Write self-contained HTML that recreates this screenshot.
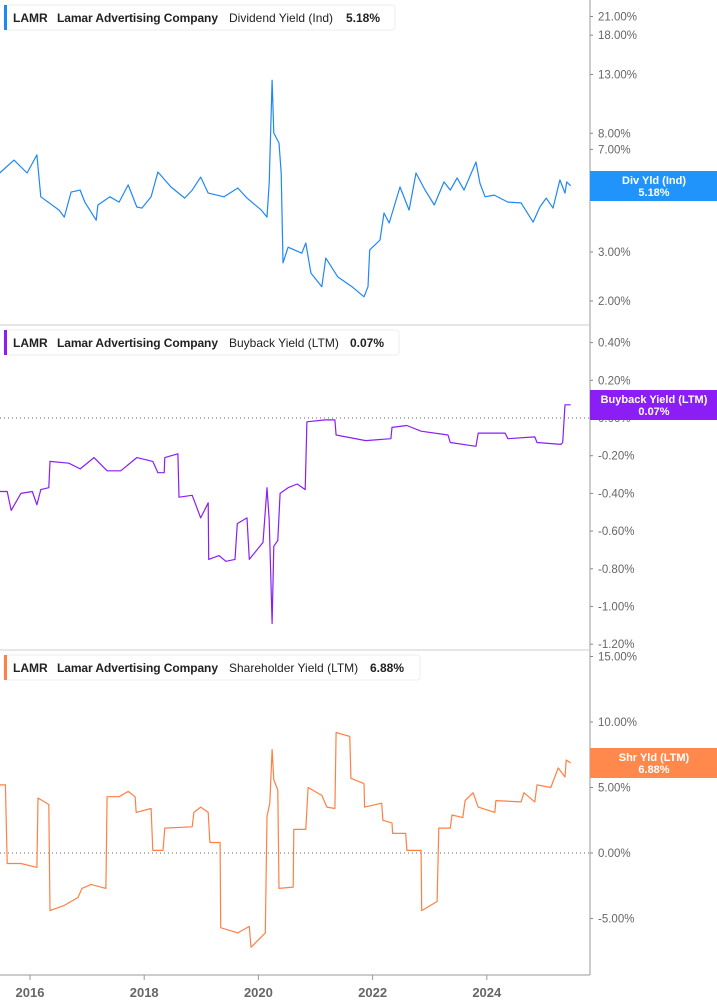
<!DOCTYPE html>
<html><head><meta charset="utf-8"><style>
body{margin:0;background:#fff;}
svg{display:block;font-family:"Liberation Sans",sans-serif;}
</style></head><body>
<svg id="chart" width="717" height="1005" viewBox="0 0 717 1005" xmlns="http://www.w3.org/2000/svg">
<g id="grid">
<line x1="590" y1="0" x2="590" y2="975" stroke="#999" stroke-width="1"/>
<line x1="0" y1="325" x2="590" y2="325" stroke="#ccc"/>
<line x1="0" y1="650" x2="590" y2="650" stroke="#ccc"/>
<line x1="0" y1="975" x2="590" y2="975" stroke="#999"/>
<line x1="0" y1="418" x2="590" y2="418" stroke="#666" stroke-dasharray="1,3"/>
<line x1="0" y1="853" x2="590" y2="853" stroke="#666" stroke-dasharray="1,3"/>
</g>
<g id="ticks"></g>
<g id="series"></g>
<g id="legends"></g>
<g id="badges"></g>
</svg>
<script>
// Dividend yield (Ind), %
const divDates=[2015.47,2015.72,2015.95,2016.12,2016.19,2016.51,2016.60,2016.72,2016.88,2016.96,2017.16,2017.19,2017.40,2017.56,2017.72,2017.87,2017.96,2018.12,2018.24,2018.47,2018.71,2018.84,2018.99,2019.12,2019.40,2019.64,2019.80,2020.05,2020.15,2020.19,2020.24,2020.27,2020.36,2020.40,2020.43,2020.52,2020.76,2020.83,2020.92,2021.11,2021.18,2021.39,2021.64,2021.85,2021.92,2021.95,2022.13,2022.20,2022.29,2022.48,2022.64,2022.76,2022.92,2023.08,2023.25,2023.36,2023.48,2023.60,2023.81,2023.88,2023.97,2024.13,2024.37,2024.60,2024.81,2024.93,2025.04,2025.16,2025.28,2025.37,2025.40,2025.47];
const divValues=[5.76,6.41,5.76,6.69,4.73,4.24,4.00,4.92,5.00,4.53,3.90,4.42,4.73,4.53,5.22,4.35,4.31,4.73,5.81,5.13,4.68,5.00,5.57,4.88,4.73,5.09,4.68,4.24,4.00,5.30,12.4,8.02,7.38,5.76,2.74,3.12,2.97,3.23,2.52,2.25,2.85,2.44,2.25,2.07,2.25,3.05,3.31,4.14,3.81,5.13,4.24,5.76,5.00,4.42,5.35,5.00,5.53,5.00,6.31,5.30,4.73,4.80,4.53,4.50,3.84,4.35,4.68,4.31,5.44,4.88,5.35,5.18];
// Buyback yield (LTM), %
const bbDates=[2015.47,2015.60,2015.67,2015.84,2016.04,2016.12,2016.19,2016.33,2016.35,2016.68,2016.88,2017.12,2017.35,2017.59,2017.87,2018.15,2018.24,2018.35,2018.36,2018.59,2018.61,2018.84,2018.99,2019.12,2019.13,2019.31,2019.43,2019.59,2019.63,2019.80,2019.84,2020.08,2020.15,2020.19,2020.24,2020.27,2020.34,2020.38,2020.52,2020.68,2020.82,2020.85,2021.17,2021.34,2021.36,2021.88,2022.32,2022.34,2022.60,2022.85,2023.32,2023.36,2023.81,2023.85,2024.32,2024.37,2024.84,2024.88,2025.30,2025.33,2025.37,2025.47];
const bbValues=[-0.39,-0.39,-0.49,-0.40,-0.39,-0.46,-0.38,-0.37,-0.23,-0.24,-0.27,-0.21,-0.28,-0.28,-0.21,-0.23,-0.29,-0.29,-0.21,-0.19,-0.42,-0.41,-0.53,-0.45,-0.75,-0.73,-0.76,-0.75,-0.56,-0.53,-0.75,-0.66,-0.37,-0.54,-1.09,-0.68,-0.65,-0.40,-0.37,-0.35,-0.38,-0.02,-0.01,-0.01,-0.09,-0.12,-0.11,-0.05,-0.04,-0.07,-0.09,-0.13,-0.15,-0.08,-0.08,-0.11,-0.10,-0.13,-0.14,-0.13,0.07,0.07];
// Shareholder yield (LTM), %
const shDates=[2015.47,2015.57,2015.60,2015.84,2016.12,2016.14,2016.33,2016.35,2016.60,2016.84,2016.91,2017.07,2017.33,2017.35,2017.56,2017.72,2017.84,2017.86,2018.12,2018.15,2018.33,2018.36,2018.84,2018.87,2018.99,2019.12,2019.15,2019.33,2019.34,2019.64,2019.84,2019.87,2020.12,2020.15,2020.20,2020.24,2020.27,2020.34,2020.36,2020.61,2020.62,2020.83,2020.87,2021.11,2021.20,2021.34,2021.36,2021.60,2021.62,2021.85,2021.86,2022.16,2022.18,2022.34,2022.35,2022.58,2022.60,2022.85,2022.86,2023.13,2023.16,2023.36,2023.39,2023.58,2023.62,2023.76,2023.85,2024.14,2024.16,2024.60,2024.65,2024.84,2024.88,2025.12,2025.25,2025.37,2025.39,2025.47];
const shValues=[5.2,5.2,-0.8,-0.8,-1.1,4.2,3.7,-4.4,-4.0,-3.4,-2.7,-2.4,-2.7,4.3,4.3,4.7,4.3,3.1,3.4,0.2,0.2,1.9,2.0,3.1,3.5,3.1,0.8,0.8,-5.7,-6.1,-5.6,-7.2,-6.1,2.8,3.8,7.9,5.6,4.8,-2.7,-2.6,1.8,1.8,5.0,4.4,3.5,3.4,9.2,8.9,5.7,5.3,3.5,3.8,2.5,2.3,1.5,1.5,0.2,0.2,-4.4,-3.7,1.9,1.9,2.9,2.7,4.0,4.6,3.5,3.1,4.0,3.9,4.6,3.9,5.2,5.0,6.5,5.8,7.1,6.88];
const yearTicks=[2016,2018,2020,2022,2024];
const divTicks=[2,3,5,7,8,13,18,21];
const bbTicks=[0.4,0.2,0,-0.2,-0.4,-0.6,-0.8,-1.0,-1.2];
const shTicks=[15,10,5,0,-5];

const NS="http://www.w3.org/2000/svg";
const xS=y=>30+(y-2016)*57.1;
const yDiv=v=>301-121*Math.log(v/2);
const yBB=v=>418-188.5*v;
const ySh=v=>853-13.1*v;
function mk(tag,attrs,parent){const e=document.createElementNS(NS,tag);for(const k in attrs)e.setAttribute(k,attrs[k]);parent.appendChild(e);return e;}
const ticksG=document.getElementById('ticks'),seriesG=document.getElementById('series');

function axisTicks(vals,scale,fmt,name){
  vals.forEach(v=>{const y=scale(v);
    const t=mk('line',{x1:590,x2:593,y1:y,y2:y,stroke:'#888'},ticksG);
    
    
    const tx=mk('text',{x:598,y:y+4,'font-size':'11.5',fill:'#666'},ticksG);
    tx.textContent=fmt(v);
    
    
  });
}
const pct=v=>v.toFixed(2)+'%';
axisTicks(divTicks,yDiv,pct,'div-yield-axis');
axisTicks(bbTicks,yBB,v=>(Math.abs(v)<1e-9?0:v).toFixed(2)+'%','buyback-axis');
axisTicks(shTicks,ySh,pct,'shareholder-axis');

yearTicks.forEach(yr=>{const x=xS(yr);
  const t=mk('line',{x1:x,x2:x,y1:975,y2:980,stroke:'#999'},ticksG);
  
  
  const tx=mk('text',{x:x,y:997,'font-size':'13','font-weight':'bold',fill:'#666','text-anchor':'middle'},ticksG);
  tx.textContent=String(yr);
  
  
});

function line(dates,vals,scale,color,name){
  const d=dates.map((t,i)=>(i?'L':'M')+xS(t).toFixed(1)+','+scale(vals[i]).toFixed(1)).join('');
  const p=mk('path',{d:d,fill:'none',stroke:color,'stroke-width':'1.2','stroke-linejoin':'round'},seriesG);
  
  
}
line(divDates,divValues,yDiv,'#1e88f5','dividend-yield-line');
line(bbDates,bbValues,yBB,'#8a1ef5','buyback-yield-line');
line(shDates,shValues,ySh,'#ff8044','shareholder-yield-line');

const legG=document.getElementById('legends');
function legend(y,w,color,metric,val,mx,vx,name){
  const g=mk('g',{},legG);
  
  
  mk('rect',{x:4,y:y,width:w,height:25,rx:3,fill:'#fff',stroke:'#eee'},g);
  mk('rect',{x:4,y:y,width:3,height:25,fill:color},g);
  const items=[['LAMR',13],['Lamar Advertising Company',57],[metric,mx],[val,vx]];
  items.forEach((it,i)=>{const t=mk('text',{x:it[1],y:y+17,'font-size':'12','font-weight':i==2?'normal':'bold',fill:'#222'},g);t.textContent=it[0];
    if(i==1)t.setAttribute('textLength','161');
    
    });
}
legend(5,391,'#1e88f5','Dividend Yield (Ind)','5.18%',229,346,'legend-dividend');
legend(330,395,'#8a1ef5','Buyback Yield (LTM)','0.07%',229,350,'legend-buyback');
legend(655,416,'#ff8044','Shareholder Yield (LTM)','6.88%',229,370,'legend-shareholder');

const bG=document.getElementById('badges');
function badge(y,color,l1,l2,name){
  const g=mk('g',{},bG);
  
  
  mk('rect',{x:590,y:y,width:127,height:30,fill:color},g);
  const a=mk('text',{x:654,y:y+13,'font-size':'11','font-weight':'bold',fill:'#fff','text-anchor':'middle'},g);a.textContent=l1;
  const b=mk('text',{x:654,y:y+25,'font-size':'11','font-weight':'bold',fill:'#fff','text-anchor':'middle'},g);b.textContent=l2;
}
badge(171,'#2094fa','Div Yld (Ind)','5.18%','badge-dividend');
badge(390,'#8a1ef5','Buyback Yield (LTM)','0.07%','badge-buyback');
badge(748,'#ff884d','Shr Yld (LTM)','6.88%','badge-shareholder');
</script>
</body></html>
